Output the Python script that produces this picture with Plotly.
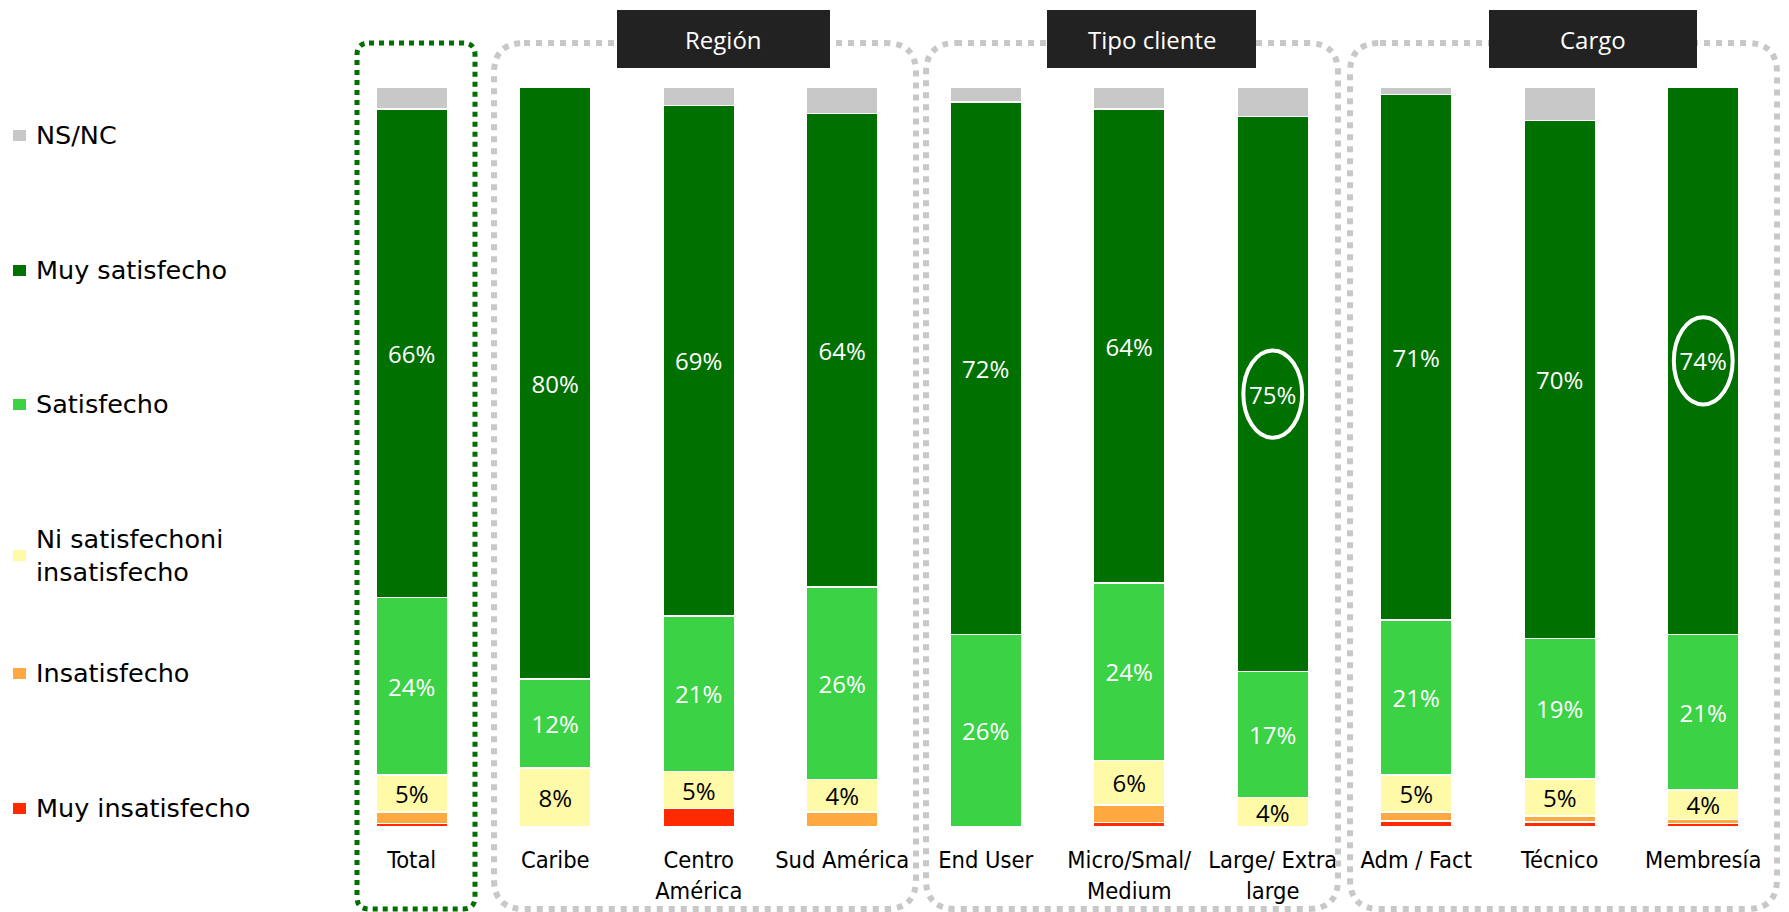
import plotly.graph_objects as go

# ---------------- data ----------------
categories = ["Total", "Caribe", "Centro<br>América", "Sud América", "End User",
              "Micro/Smal/<br>Medium", "Large/ Extra<br>large", "Adm / Fact",
              "Técnico", "Membresía"]

muy_insatisfecho = [0.5, 0.0, 2.5, 0.0, 0.0, 0.6, 0.0, 0.8, 0.7, 0.5]
insatisfecho     = [1.5, 0.0, 0.0, 2.0, 0.0, 2.4, 0.0, 1.2, 0.8, 0.5]
ni_ni            = [5.0, 8.0, 5.0, 4.4, 0.0, 6.0, 4.0, 5.0, 5.0, 4.0]
satisfecho       = [24, 12, 21, 26, 26, 24, 17, 21, 19, 21]
muy_satisfecho   = [66, 80, 69, 64, 72, 64, 75, 71, 70, 74]
ns_nc            = [3.0, 0.0, 2.5, 3.6, 2.0, 3.0, 4.0, 1.0, 4.5, 0.0]

series_names = ["Muy insatisfecho", "Insatisfecho", "Ni satisfechoni<br>insatisfecho",
                "Satisfecho", "Muy satisfecho", "NS/NC"]
series_colors = ["#ff2a00", "#ffa940", "#fffaa8", "#3bd246", "#007000", "#c8c8c8"]

group_titles = ["Región", "Tipo cliente", "Cargo"]
highlighted = [6, 9]  # bars whose "Muy satisfecho" value is circled

# ---------------- geometry helpers ----------------
OFF = 8  # page body margin
W, H = 1789, 912
ML, MT = 340 - OFF, 87 - OFF
MR = W - (1775 - OFF)
MB = H - (827 - OFF)
PW, PH = W - ML - MR, H - MT - MB


def px(x):  # screen pixel -> paper x
    return (x - OFF - ML) / PW


def py(y):  # screen pixel -> paper y
    return (H - MB - (y - OFF)) / PH


def rounded_path(x0, y0, x1, y1, r):
    rx, ry = r / PW, r / PH
    a, b, c, d = px(x0), px(x1), py(y0), py(y1)  # c top, d bottom (paper)
    return (f"M {a+rx},{c} L {b-rx},{c} Q {b},{c} {b},{c-ry} "
            f"L {b},{d+ry} Q {b},{d} {b-rx},{d} L {a+rx},{d} Q {a},{d} {a},{d+ry} "
            f"L {a},{c-ry} Q {a},{c} {a+rx},{c} Z")


def fmt(vals, minimum):
    return [f"{v:.0f}%" if v >= minimum else "" for v in vals]


# ---------------- figure ----------------
fig = go.Figure()
all_series = [muy_insatisfecho, insatisfecho, ni_ni, satisfecho, muy_satisfecho, ns_nc]
text_cfg = {2: "#000000", 3: "#ffffff", 4: "#ffffff"}
x_idx = list(range(len(categories)))

for i, (vals, name, col) in enumerate(zip(all_series, series_names, series_colors)):
    kw = {}
    if i in text_cfg:
        kw = dict(text=fmt(vals, 3), texttemplate="%{text}", textposition="inside",
                  insidetextanchor="middle", textangle=0,
                  textfont=dict(family="Open Sans", size=24, color=text_cfg[i]))
    fig.add_trace(go.Bar(x=x_idx, y=vals, name=name, width=0.5,
                         marker=dict(color=col, line=dict(color="white", width=1.5)),
                         showlegend=False, hoverinfo="skip", **kw))

shapes = []
# group boxes
shapes.append(dict(type="path", xref="paper", yref="paper",
                   path=rounded_path(357, 43, 475, 909, 12),
                   line=dict(color="#006f00", width=5, dash="dot")))
for (x0, x1) in [(494, 916), (926, 1338), (1350, 1777)]:
    shapes.append(dict(type="path", xref="paper", yref="paper",
                       path=rounded_path(x0, 43, x1, 909, 30),
                       line=dict(color="#c8c8c8", width=6, dash="dot")))
# header boxes
headers = [(617, 830), (1047, 1256), (1489, 1697)]
annotations = []
for (x0, x1), title in zip(headers, group_titles):
    shapes.append(dict(type="rect", xref="paper", yref="paper",
                       x0=px(x0), x1=px(x1), y0=py(68), y1=py(10),
                       fillcolor="#222222", line=dict(width=0)))
    annotations.append(dict(xref="paper", yref="paper", x=px((x0 + x1) / 2), y=py(39),
                            xanchor="center", yanchor="middle",
                            text=title, showarrow=False,
                            font=dict(family="Open Sans", size=24, color="white")))

# highlight circles
for idx in highlighted:
    base = muy_insatisfecho[idx] + insatisfecho[idx] + ni_ni[idx] + satisfecho[idx]
    mid = base + muy_satisfecho[idx] / 2
    shapes.append(dict(type="circle", xref="x", yref="y",
                       x0=idx - 0.205, x1=idx + 0.205, y0=mid - 5.9, y1=mid + 5.9,
                       line=dict(color="white", width=4)))

# custom legend (top to bottom)
legend_y = [135, 270, 404, 555, 673, 808]
for name, col, yy in zip(series_names[::-1], series_colors[::-1], legend_y):
    shapes.append(dict(type="rect", xref="paper", yref="paper",
                       x0=px(13), x1=px(26), y0=py(yy + 6), y1=py(yy - 5),
                       fillcolor=col, line=dict(width=0)))
    annotations.append(dict(xref="paper", yref="paper", x=px(34), y=py(yy),
                            xanchor="left", yanchor="middle", align="left",
                            text=name, showarrow=False,
                            font=dict(family="DejaVu Sans", size=25.5, color="black")))

fig.update_layout(
    width=W, height=H,
    margin=dict(l=ML, r=MR, t=MT, b=MB, autoexpand=False),
    paper_bgcolor="white", plot_bgcolor="white",
    barmode="stack",
    uniformtext=dict(minsize=24, mode="show"),
    shapes=shapes, annotations=annotations,
    xaxis=dict(range=[-0.5, len(categories) - 0.5], tickmode="array",
               tickvals=x_idx, ticktext=categories, showgrid=False, zeroline=False,
               showline=False, ticks="outside", ticklen=12, tickcolor="rgba(0,0,0,0)",
               tickfont=dict(family="DejaVu Sans Condensed", size=23.5, color="black")),
    yaxis=dict(range=[0, 100], visible=False),
)

fig.write_html("out.html")
